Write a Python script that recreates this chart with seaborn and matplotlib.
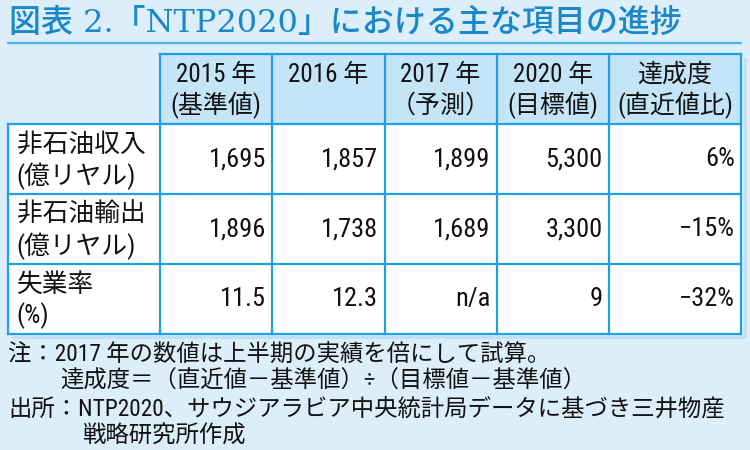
import matplotlib
matplotlib.use("Agg")
import matplotlib.pyplot as plt
from matplotlib import font_manager as fm
from matplotlib.colors import ListedColormap
from matplotlib.lines import Line2D
import numpy as np
import pandas as pd
import seaborn as sns

# ---------------- data ----------------
title = "図表 2.「NTP2020」における主な項目の進捗"
col_head_top = ["2015 年", "2016 年", "2017 年", "2020 年", "達成度"]
col_head_bottom = ["(基準値)", "", "（予測）", "(目標値)", "(直近値比)"]
row_head_top = ["非石油収入", "非石油輸出", "失業率"]
row_head_bottom = ["(億リヤル)", "(億リヤル)", "(%)"]
non_oil_revenue = [1695, 1857, 1899, 5300]      # 億リヤル
non_oil_exports = [1896, 1738, 1689, 3300]      # 億リヤル
unemployment = [11.5, 12.3, None, 9]            # %
achievement = [6, -15, -32]                     # %
notes = [
    "注：2017 年の数値は上半期の実績を倍にして試算。",
    "達成度＝（直近値－基準値）÷（目標値－基準値）",
    "出所：NTP2020、サウジアラビア中央統計局データに基づき三井物産",
    "戦略研究所作成",
]

# ---------------- style ----------------
BG = "#dbeefa"
HEAD = "#c4e4f8"
LINE = "#1f9fe6"
SHADOW = "#bfe0f5"
TITLE_C = "#1b87c9"

sns.set_theme(style="white")
names = {f.name for f in fm.fontManager.ttflist}
narrow = next((n for n in ["Liberation Sans Narrow", "Roboto Condensed",
                           "Open Sans Condensed"] if n in names), "Liberation Sans")
plt.rcParams["font.family"] = [narrow, "Noto Sans CJK JP", "DejaVu Sans"]

def fmt_int(v):
    return f"{v:,}"

def fmt_num(v):
    if v is None:
        return "n/a"
    return f"{v:g}"

def fmt_pct(v):
    return (f"{v}%" if v >= 0 else f"\u2212{abs(v)}%")

body = [
    [fmt_int(v) for v in non_oil_revenue] + [fmt_pct(achievement[0])],
    [fmt_int(v) for v in non_oil_exports] + [fmt_pct(achievement[1])],
    [fmt_num(v) for v in unemployment] + [fmt_pct(achievement[2])],
]

# ---------------- figure ----------------
W, H = 750, 450
fig = plt.figure(figsize=(7.5, 4.5), dpi=100)
fig.patch.set_facecolor(BG)

# title + underline
fig.text(9 / W, 1 - 23 / H, title, family=["DejaVu Serif", "Noto Sans CJK JP"],
         fontsize=23, weight="medium", color=TITLE_C, va="center", ha="left")
fig.add_artist(Line2D([8 / W, 741 / W], [1 - 43 / H] * 2, color="#49b3ec", lw=1.6))

# table via seaborn heatmap (column widths expressed in 4-px units)
col_units = [38, 28, 28, 28, 28, 33]
edges = np.concatenate([[0], np.cumsum(col_units)])
ncols_u = int(edges[-1])
nrows = 1 + len(row_head_top)
fill = np.zeros((nrows, ncols_u))
fill[0, :] = 1
mask = np.zeros_like(fill, dtype=bool)
mask[0, : col_units[0]] = True
fill_df = pd.DataFrame(fill)

ax = fig.add_axes([8 / W, (H - 334) / H, 733 / W, 280 / H])
sns.heatmap(fill_df, mask=mask, cmap=ListedColormap(["white", HEAD]), vmin=0, vmax=1,
            cbar=False, xticklabels=False, yticklabels=False, ax=ax)
ax.set_facecolor(BG)
ax.patch.set_alpha(0)
ax.set_position([8 / W, (H - 334) / H, 733 / W, 280 / H])
for s in ax.spines.values():
    s.set_visible(False)

# soft shadow right and below the table
ax.vlines([edges[-1] + 0.9], 0.05, nrows + 0.045, colors=SHADOW, lw=2.2, clip_on=False,
          zorder=0.5)
ax.hlines([nrows + 0.045], 1.0, edges[-1] + 0.9, colors=SHADOW, lw=2.2, clip_on=False,
          zorder=0.5)

lw = 1.6
ax.vlines(edges[1:], 0, nrows, colors=LINE, lw=lw, clip_on=False, capstyle="projecting")
ax.vlines([0], 1, nrows, colors=LINE, lw=lw, clip_on=False, capstyle="projecting")
ax.hlines([0], edges[1], edges[-1], colors=LINE, lw=lw, clip_on=False, capstyle="projecting")
ax.hlines(np.arange(1, nrows + 1), 0, edges[-1], colors=LINE, lw=lw, clip_on=False,
          capstyle="projecting")

up, dn = 0.20, 0.24
# header
for j, (t, b) in enumerate(zip(col_head_top, col_head_bottom)):
    cx = (edges[j + 1] + edges[j + 2]) / 2
    ax.text(cx, 0.5 - up, t, ha="center", va="center", fontsize=18, color="#111111")
    if b:
        ax.text(cx, 0.5 + dn, b, ha="center", va="center", fontsize=18, color="#111111")

# row headers + values
for i in range(len(row_head_top)):
    cy = i + 1.5
    ax.text(2.2, cy - up, row_head_top[i], ha="left", va="center", fontsize=18.5,
            color="#111111")
    ax.text(2.2, cy + dn, row_head_bottom[i], ha="left", va="center", fontsize=18.5,
            color="#111111")
    for j, txt in enumerate(body[i]):
        ax.text(edges[j + 2] - 1.6, cy, txt, ha="right", va="center", fontsize=19,
                color="#111111")

# notes
note_pos = [(8, 355), (60, 381), (8, 409), (82, 436)]
for (x, y), t in zip(note_pos, notes):
    fig.text(x / W, 1 - y / H, t, fontsize=16.8, color="#111111", ha="left", va="center")

fig.savefig("out.png", dpi=100, facecolor=BG)
